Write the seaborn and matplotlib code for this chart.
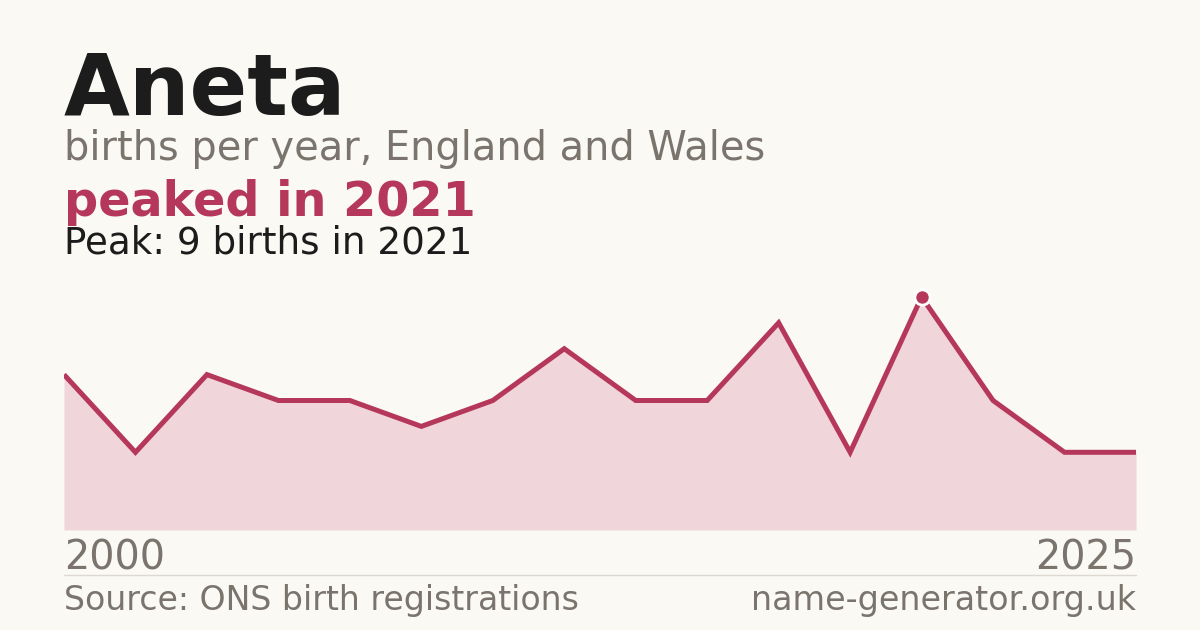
import numpy as np
import pandas as pd

import matplotlib
matplotlib.use("Agg")
import matplotlib.pyplot as plt
import seaborn as sns

NAME = "Aneta"
YEARS = list(range(2009, 2025))
BIRTHS = [6, 3, 6, 5, 5, 4, 5, 7, 5, 5, 8, 3, 9, 5, 3, 3]
START_LABEL = "2000"
END_LABEL = "2025"

BG = "#faf9f4"
RED = "#b5385a"
FILL = "#f0d5da"
GREY = "#7a746c"
INK = "#1c1c1c"

sns.set_theme(style="white")
plt.rcParams["font.family"] = ["DejaVu Sans"]

df = pd.DataFrame({"year": YEARS, "births": BIRTHS})
peak_i = int(np.argmax(BIRTHS))
peak_year = YEARS[peak_i]
peak_val = BIRTHS[peak_i]

fig = plt.figure(figsize=(12, 6.3), dpi=100, facecolor=BG)
ax = fig.add_axes([64 / 1200, 1 - 530 / 630, (1136 - 64) / 1200, (530 - 271) / 630])
ax.set_facecolor(BG)

ax.fill_between(df["year"], df["births"], 0, color=FILL, linewidth=0)
sns.lineplot(data=df, x="year", y="births", ax=ax, color=RED, linewidth=3.6,
             solid_joinstyle="miter", solid_capstyle="butt")
ax.scatter([peak_year], [peak_val], s=120, color=RED, edgecolor="white",
           linewidth=2, zorder=5, clip_on=False)

ax.set_xlim(YEARS[0], YEARS[-1])
ax.set_ylim(0, 10)
ax.set_axis_off()

# header text
fig.text(64 / 1200, 1 - 115 / 630, NAME, fontsize=61.3, fontweight="bold",
         color=INK, va="baseline")
fig.text(64 / 1200, 1 - 160 / 630, "births per year, England and Wales",
         fontsize=28.7, color=GREY, va="baseline")
fig.text(64 / 1200, 1 - 216 / 630, f"peaked in {peak_year}", fontsize=34.4,
         fontweight="bold", color=RED, va="baseline")
fig.text(64 / 1200, 1 - 254 / 630, f"Peak: {peak_val} births in {peak_year}",
         fontsize=26.8, color=INK, va="baseline")

# axis end labels
fig.text(64 / 1200, 1 - 570 / 630, START_LABEL, fontsize=28.6, color=GREY,
         va="baseline", ha="left")
fig.text(1136 / 1200, 1 - 570 / 630, END_LABEL, fontsize=28.6, color=GREY,
         va="baseline", ha="right")

# separator + footer
fig.add_artist(plt.Line2D([64 / 1200, 1136 / 1200], [1 - 574.5 / 630] * 2,
                          color="#ddd8d0", linewidth=1))
fig.text(64 / 1200, 1 - 610 / 630, "Source: ONS birth registrations",
         fontsize=23.9, color=GREY, va="baseline")
fig.text(1136 / 1200, 1 - 610 / 630, "name-generator.org.uk", fontsize=24,
         color=GREY, va="baseline", ha="right")

fig.savefig("out.png", dpi=100, facecolor=BG)
plt.close(fig)
